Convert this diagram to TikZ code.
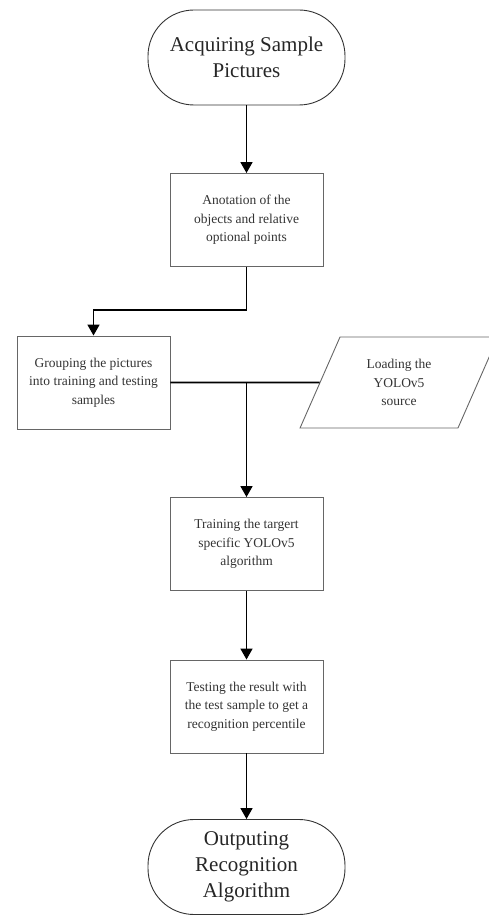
\documentclass[tikz,border=0pt]{standalone}
\usepackage{fontspec}
\setmainfont{Liberation Serif}
\usetikzlibrary{arrows.meta,shapes.geometric}
\begin{document}
\begin{tikzpicture}[x=1pt,y=-1pt,
  term/.style={draw=black!80,line width=0.9pt,rounded corners=46pt,minimum width=197pt,minimum height=95pt,inner sep=0pt,align=center,font=\fontsize{21}{26}\selectfont,text=black!85},
  proc/.style={draw=black!60,line width=0.9pt,minimum width=153pt,minimum height=93pt,inner sep=0pt,align=center,font=\fontsize{13.5}{18.5}\selectfont,text=black!80},
  io/.style={draw=black!60,line width=0.9pt,trapezium,trapezium left angle=64.7,trapezium right angle=115.3,trapezium stretches=true,minimum width=198pt,minimum height=91pt,inner sep=0pt,align=center,font=\fontsize{13.5}{18.5}\selectfont,text=black!80},
  conn/.style={line width=1.7pt,black},
  arr/.style={conn,-{Triangle[length=11pt,width=12pt]}}]
\useasboundingbox (0,0) rectangle (489,915);
\node[term] (start) at (246.5,57.5) {Acquiring Sample\\Pictures};
\node[proc] (ann) at (246.5,220) {Anotation of the\\objects and relative\\optional points};
\node[proc] (grp) at (93.5,382.5) {Grouping the pictures\\into training and testing\\samples};
\node[io] (load) at (399,382.5) {Loading the\\YOLOv5\\source};
\node[proc] (train) at (246.5,544) {Training the targert\\specific YOLOv5\\algorithm};
\node[proc] (test) at (246.5,706.5) {Testing the result with\\the test sample to get a\\recognition percentile};
\node[term] (out) at (246.5,867) {Outputing\\Recognition\\Algorithm};
\coordinate (bend1) at (246.5,310);
\coordinate (bend2) at (93.5,310);
\coordinate (junc) at (246.5,382.5);
\draw[arr] (start.south) -- (ann.north);
\draw[arr] (ann.south) -- (bend1) -- (bend2) -- (grp.north);
\draw[conn] (grp.east) -- (load.west);
\draw[arr] (junc) -- (train.north);
\draw[arr] (train.south) -- (test.north);
\draw[arr] (test.south) -- (out.north);
\end{tikzpicture}
\end{document}
